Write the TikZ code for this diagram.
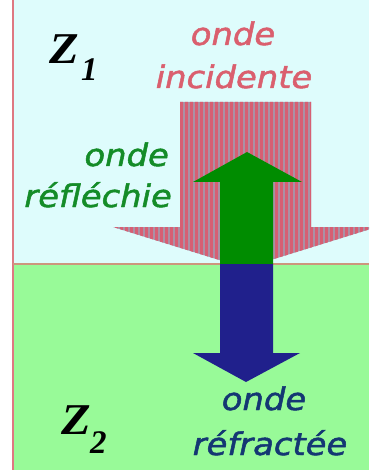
\documentclass[tikz,border=0pt]{standalone}
\usepackage{fontspec}
\newfontfamily\vfont[UprightFont={* Oblique}, BoldFont={* Oblique}, BoldFeatures={FakeBold=1.5}]{DejaVu Sans}
\newfontfamily\tfont{Liberation Serif}
\definecolor{bgcyan}{RGB}{222,252,252}
\definecolor{bggreen}{RGB}{152,250,152}
\definecolor{linered}{RGB}{222,120,130}
\definecolor{linetan}{RGB}{205,150,125}
\definecolor{stripered}{RGB}{215,95,115}
\definecolor{stripegray}{RGB}{170,145,165}
\definecolor{arrgreen}{RGB}{0,140,0}
\definecolor{arrblue}{RGB}{32,32,140}
\definecolor{txtred}{RGB}{218,95,110}
\definecolor{txtgreen}{RGB}{20,140,40}
\definecolor{txtblue}{RGB}{20,55,115}
\tikzset{
  wavetext/.style={inner sep=0pt, font=\vfont\bfseries\fontsize{31}{36}\selectfont},
  zlab/.style={inner sep=0pt, font=\tfont\bfseries\itshape\fontsize{44}{50}\selectfont},
  zsub/.style={inner sep=0pt, font=\tfont\bfseries\itshape\fontsize{33}{38}\selectfont}
}
\newcommand{\wx}[1]{\scalebox{1.09}[1]{#1}}
\begin{document}
\begin{tikzpicture}[x=1pt,y=-1pt]
\useasboundingbox (0,0) rectangle (369,470);
\fill[white] (0,0) rectangle (369,470);
\fill[bgcyan] (13,0) rectangle (369,264);
\fill[bggreen] (13,264) rectangle (369,470);
\draw[linered, line width=2pt] (13,0) -- (13,470);
\draw[linetan, line width=2pt] (13,264) -- (369,264);
% incident wave (striped arrow)
\begin{scope}
  \clip (0,0) rectangle (369,263);
  \fill[stripegray] (180,102) -- (311,102) -- (311,227) -- (377,227) -- (245,268) -- (113,227) -- (180,227) -- cycle;
  \clip (180,102) -- (311,102) -- (311,227) -- (377,227) -- (245,268) -- (113,227) -- (180,227) -- cycle;
  \foreach \x in {110,115,...,380} \fill[stripered] (\x,100) rectangle ++(3,170);
\end{scope}
% reflected wave
\fill[arrgreen] (220,264) -- (220,182) -- (193,182) -- (247,152) -- (302,182) -- (273,182) -- (273,264) -- cycle;
% refracted wave
\fill[arrblue] (220,264) -- (220,353) -- (193,353) -- (246,382) -- (300,353) -- (273,353) -- (273,264) -- cycle;
% labels
\node[wavetext, text=txtred, anchor=base] (inc1) at (233,45) {\wx{onde}};
\node[wavetext, text=txtred, anchor=base] (inc2) at (234,88) {\wx{incidente}};
\node[wavetext, text=txtgreen, anchor=base east] (ref1) at (169,166) {\wx{onde}};
\node[wavetext, text=txtgreen, anchor=base east] (ref2) at (172,207) {\wx{réfléchie}};
\node[wavetext, text=txtblue, anchor=base] (tr1) at (264,410) {\wx{onde}};
\node[wavetext, text=txtblue, anchor=base] (tr2) at (270,455) {\wx{réfractée}};
\node[zlab, anchor=base west] (z1) at (49,64) {\scalebox{1.1}[1]{Z}};
\node[zsub, anchor=base west] (s1) at (81,81) {1};
\node[zlab, anchor=base west] (z2) at (61,434) {\scalebox{1.1}[1]{Z}};
\node[zsub, anchor=base west] (s2) at (90,453) {2};
\end{tikzpicture}
\end{document}
